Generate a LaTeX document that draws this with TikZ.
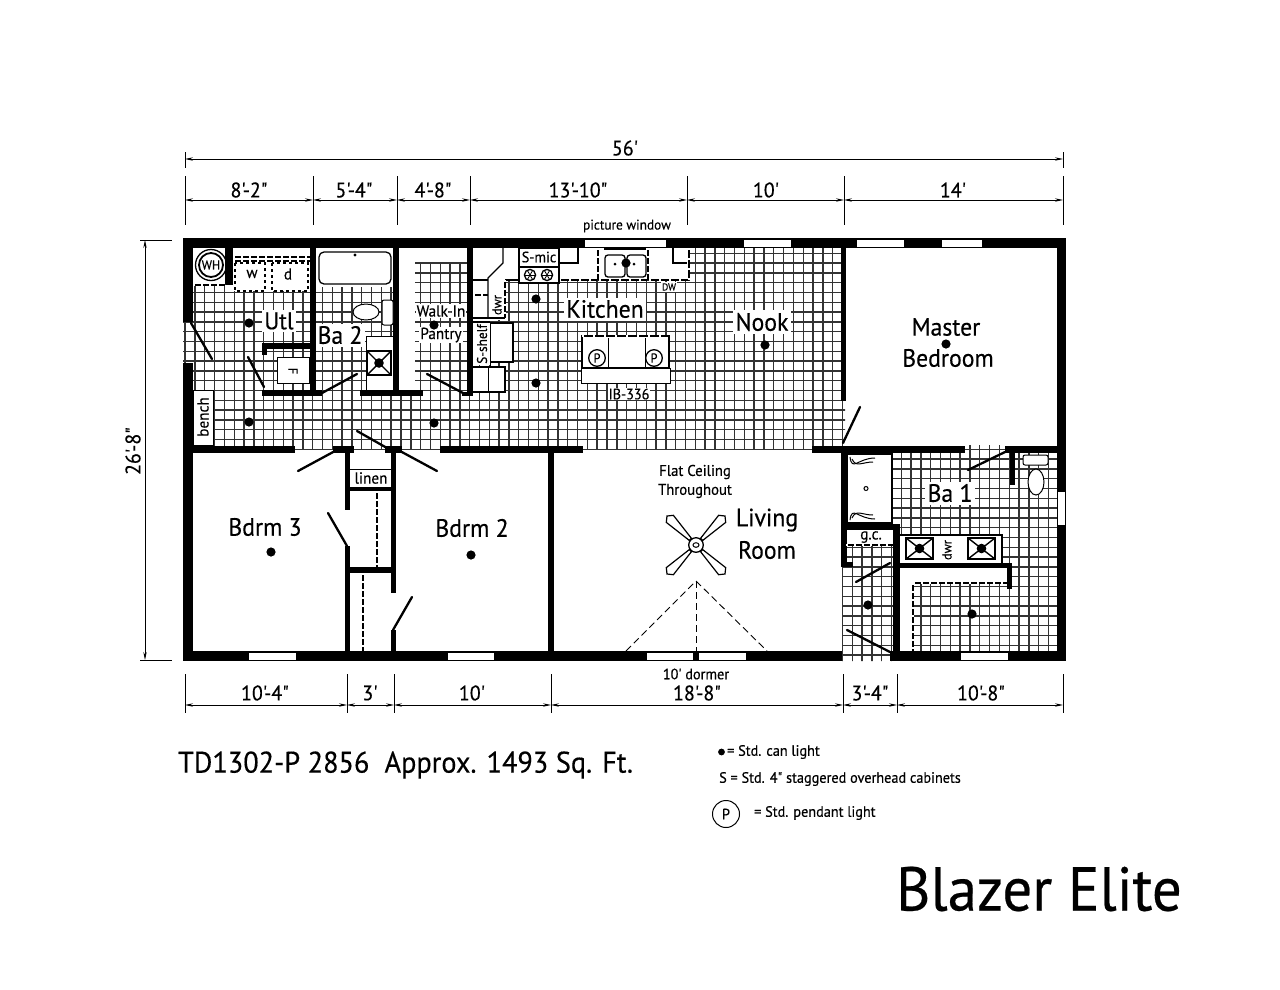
\documentclass[tikz,border=0pt]{standalone}
\usepackage{fontspec}
\usetikzlibrary{arrows.meta}
\newfontfamily\din{PT Sans}[FakeStretch=0.95,FakeBold=0.35]
\newcommand\wl[4]{\fill[black] (#1,#2) rectangle (#3,#4);}
\newcommand\wh[4]{\fill[white] (#1,#2) rectangle (#3,#4);}
\newcommand\dl[4]{\draw[black,line width=1.7pt] (#1,#2) -- (#3,#4);\draw[white,line width=1.9pt,dash pattern=on 2pt off 6pt] (#1,#2) -- (#3,#4);}
\newcommand\can[2]{\fill[black] (#1,#2) circle (4.6);}
\newcommand\sinkbox[4]{\draw[black,line width=2pt,fill=white] (#1,#2) rectangle (#3,#4);
 \draw[black,line width=1.4pt] (#1,#2) -- (#3,#4) (#1,#4) -- (#3,#2);
 \fill[black] ({(#1+#3)/2},{(#2+#4)/2}) circle (4.8);}
\tikzset{
 lb/.style={font=\din\fontsize{#1}{#1}\selectfont,inner sep=1pt,text=black},
 halo/.style={fill=white,inner sep=2.5pt},
 door/.style={line width=2.3pt,black,line cap=round},
 dim/.style={line width=0.8pt,black,{Stealth[length=8pt,width=3.4pt]}-{Stealth[length=8pt,width=3.4pt]}},
 tick/.style={line width=0.8pt,black},
 tile/.style={line width=1.4pt,black!80},
 thin1/.style={line width=1pt,black},
 fixt/.style={line width=1.3pt,black}
}
\begin{document}
\begin{tikzpicture}[x=1pt,y=-1pt]
\useasboundingbox (0,0) rectangle (1280,989);
\fill[white] (0,0) rectangle (1280,989);
% ---- tile
\begin{scope}
\clip (183,248) rectangle (845,449)
      (892,449) rectangle (1060,535)
      (1002,535) rectangle (1060,655)
      (913,583) rectangle (1060,655)
      (842,545) rectangle (893,661)
      (965,445) rectangle (1005,453);
\foreach \i in {-4,...,88} \draw[tile] ({214.6+\i*9.81},238) -- ++(0,430);
\foreach \i in {-1,...,42} \draw[tile] (180,{253.2+\i*9.8}) -- ++(890,0);
\end{scope}
\draw[tile] (295,449.5) -- (840,449.5);
% ---- white fixtures
\wh{193}{248}{233}{285}
\wh{233}{248}{310}{291}
\wh{316}{248}{393}{287}
\wh{366}{336}{393}{390}
\wh{399}{248}{467}{263}
\wh{399}{263}{415}{392}
\wh{473}{248}{505}{320}
\wh{505}{248}{689}{280}
\wh{473}{320}{490}{365}
\wh{490}{323}{513}{362}
\wh{473}{367}{505}{392}
\wh{519}{280}{559}{283}
\wh{277}{357}{309}{383}
\wh{581}{336}{670}{383}
\wh{193}{390}{213}{445}
\wh{847}{454}{892}{523}
\wh{846}{530}{893}{545}
\wh{900}{535}{1002}{563}
\wh{900}{568}{913}{651}
\wh{913}{568}{1007}{583}
% ---- outer walls
\wl{183}{238}{1066}{248}
\wl{183}{238}{193}{322}
\wl{183}{363}{193}{661}
\wl{1057}{238}{1066}{661}
\wl{183}{651}{842}{661}
\wl{890}{651}{1066}{661}
% windows
\wh{585}{239.5}{666}{247}
\wh{744}{239.5}{791}{247}
\wh{857}{239.5}{904}{247}
\wh{942}{239.5}{982}{247}
\wh{249}{652.5}{296}{660}
\wh{448}{652.5}{494}{660}
\wh{647}{652.5}{693}{660}
\wh{699}{652.5}{746}{660}
\wh{961}{652.5}{1008}{660}
\wh{1058}{492}{1065}{525}
% ---- room text with halos (under the walls)
\node[lb=24,halo] (utl) at (279,321) {Utl};
\node[lb=25,halo] (ba2) at (340,335) {Ba 2};
% ---- interior walls
\wl{225}{248}{233}{285}
\wl{310}{248}{316}{396}
\wl{262}{343}{312}{349}
\wl{262}{349}{267}{355}
\wl{262}{390}{322}{396}
\wl{360}{390}{423}{396}
\wl{393}{248}{399}{396}
\wl{467}{248}{473}{396}
\wl{462}{392}{473}{396}
\wl{183}{446}{295}{453}
\wl{333}{446}{354}{453}
\wl{385}{446}{402}{453}
\wl{440}{446}{583}{453}
\wl{812}{446}{965}{453}
\wl{1005}{446}{1057}{453}
\wl{841}{248}{846}{401}
\wl{1010}{453}{1015}{485}
\wl{841}{446}{847}{567}
\wl{841}{562}{853}{567}
\wl{842}{524}{899}{530}
\wl{893}{524}{900}{661}
\wl{899}{563}{1012}{568}
\wl{1007}{568}{1012}{589}
\wl{345}{447}{350}{510}
\wl{345}{546}{350}{651}
\wl{391}{447}{396}{593}
\wl{391}{630}{396}{651}
\wl{350}{487}{391}{491}
\wl{350}{567}{391}{573}
\wl{548}{447}{554}{651}
% ---- doors
\draw[door] (191,323) -- (212,359);
\draw[door] (248,357) -- (264,387);
\draw[door] (322,393) -- (357,374);
\draw[door] (427,374) -- (463,393);
\draw[door] (357,431) -- (387,448);
\draw[door] (298,471) -- (335,451);
\draw[door] (437,471) -- (400,451);
\draw[door] (328,513) -- (347,546);
\draw[door] (412,597) -- (393,630);
\draw[door] (843,443) -- (860,407);
\draw[door] (1005,452) -- (968,470);
\draw[door] (890,563) -- (856,582);
\draw[door] (847,630) -- (890,652);
% ---- closet lines
\draw[thin1] (350,469) -- (391,469);
\dl{377}{491}{377}{567}
\dl{363}{573}{363}{651}
\dl{913}{583}{913}{651}
\dl{913}{583}{1007}{583}
% ---- utility
\draw[fixt] (211,265) circle (15.5);
\draw[line width=1.8pt] (211,265) circle (12);
\dl{193}{285}{225}{285}
\dl{233}{257}{310}{257}
\dl{233}{261}{310}{261}
\draw[fixt,dashed] (235,263) rectangle (265,291);
\draw[fixt,dashed] (272,263) rectangle (308,291);
\draw[thin1,fill=white] (277,357) rectangle (309,383);
\draw[thin1] (193,390) rectangle (213,445);
% ---- bath 2
\draw[fixt,rounded corners=5pt] (319,252) rectangle (391,284);
\fill[black] (355,255) circle (1.6);
\draw[thin1,fill=white] (366,312) ellipse (13 and 8);
\draw[thin1,fill=white,rounded corners=2pt] (382,300) rectangle (393,325);
\draw[thin1] (366,390) -- (366,336) -- (393,336);
\sinkbox{367}{351}{391}{375}
\draw[tile] (415,263) -- (467,263);
% ---- kitchen counters
\draw[fixt] (503,248) -- (503,263) -- (488,278) -- (488,318);
\draw[fixt] (473,280) -- (488,280);
\dl{473}{295}{488}{295}
\draw[fixt] (505,280) -- (519,280);
\draw[fixt] (559,280) -- (689,280) -- (689,248);
\draw[white,line width=1.6pt,dash pattern=on 2pt off 8pt] (559,280) -- (689,280);
\draw[white,line width=1.6pt,dash pattern=on 2pt off 8pt] (689,280) -- (689,248);
\dl{505}{280}{505}{318}
\draw[fixt] (473,318) -- (505,318);
\draw[fixt] (473,322) -- (490,322);
\draw[fixt] (490,323) -- (513,323) -- (513,362) -- (490,362);
\draw[thin1] (490,323) -- (490,367);
\draw[fixt] (473,367) -- (505,367) -- (505,392) -- (473,392);
\draw[thin1] (488,367) -- (488,392);
\draw[fixt,fill=white] (519,248) rectangle (559,283);
\draw[fixt] (519,267) -- (559,267);
\foreach \cx in {530,547} {
 \draw[fixt] (\cx,275) circle (5.6);
 \foreach \a in {0,60,120} \draw[line width=0.8pt] (\cx,275) ++(\a:5.6) -- ++(\a+180:11.2);
}
\draw[fixt] (559,263) -- (578,263) -- (578,248);
\draw[fixt] (673,248) -- (673,263) -- (687,263);
\dl{598}{248}{598}{280}
\dl{648}{248}{648}{280}
\draw[fixt] (604,249) -- (646,249);
\draw[fixt,rounded corners=3pt] (605,255) rectangle (625,277);
\draw[fixt,rounded corners=3pt] (627,255) rectangle (646,277);
\fill[black] (615,264) circle (1.5) (634,264) circle (1.5);
% island
\draw[thin1,fill=white] (581,368) rectangle (670,383);
\draw[line width=1.6pt,fill=white] (582,336) rectangle (669,368);
\draw[white,line width=1.8pt,dash pattern=on 2pt off 9pt] (582,336) -- (669,336);
\draw[thin1] (608,368) -- (608,338) (645,368) -- (645,338);
\foreach \cx in {597,654} \draw[fixt,fill=white] (\cx,358) circle (8.3);
\node[lb=13] (ip1) at (597,358) {P};
\node[lb=13] (ip2) at (654,358) {P};
% ---- bath 1
\draw[fixt] (847,454) rectangle (892,523);
\draw[thin1] (850,457) .. controls (852,472) and (858,458) .. (875,458);
\draw[thin1] (850,520) .. controls (852,505) and (858,519) .. (875,519);
\draw[thin1] (852,459) .. controls (856,468) and (862,462) .. (873,462);
\draw[thin1] (852,518) .. controls (856,509) and (862,515) .. (873,515);
\draw[thin1] (866,488.5) circle (2);
\draw[thin1,fill=white,rounded corners=2pt] (1023,455) rectangle (1048,465);
\draw[thin1,fill=white] (1036,482) ellipse (8 and 13);
\dl{846}{545}{893}{545}
\draw[fixt] (900,535) -- (1002,535) -- (1002,563);
\sinkbox{906}{538}{933}{559}
\sinkbox{968}{538}{995}{559}
% ---- fan
\begin{scope}[shift={(696,545)}]
\foreach \a in {45,135,225,315} {
 \begin{scope}[rotate=\a]
  \draw[line width=1.2pt,fill=white] (8,-1.5) -- (37,-5) -- (41,0) -- (37,5) -- (8,1.5) -- cycle;
 \end{scope}
}
\draw[fixt,fill=white] (0,0) circle (7.3);
\draw[thin1] (0,0) ellipse (3 and 2.3);
\end{scope}
% ---- dormer
\draw[line width=0.9pt,dash pattern=on 7pt off 4pt] (626,651) -- (696,581) ;
\draw[line width=0.9pt,dash pattern=on 7pt off 4pt] (696,581) -- (767,651);
\draw[line width=0.9pt,dash pattern=on 7pt off 4pt] (696,581) -- (696,651);
% ---- dimensions
\draw[dim] (185,159) -- (1063,159);
\draw[tick] (185,152) -- (185,168) (1063,152) -- (1063,168);
\draw[dim] (185,200) -- (313,200);
\draw[dim] (313,200) -- (397,200);
\draw[dim] (397,200) -- (470,200);
\draw[dim] (470,200) -- (687,200);
\draw[dim] (687,200) -- (844,200);
\draw[dim] (844,200) -- (1063,200);
\foreach \x in {185,313,397,470,687,844,1063} \draw[tick] (\x,176) -- (\x,225);
\draw[dim] (145,240) -- (145,660);
\draw[tick] (140,240) -- (172,240) (140,660) -- (172,660);
\draw[dim] (185,705) -- (347,705);
\draw[dim] (347,705) -- (394,705);
\draw[dim] (394,705) -- (551,705);
\draw[dim] (551,705) -- (843,705);
\draw[dim] (843,705) -- (897,705);
\draw[dim] (897,705) -- (1063,705);
\foreach \x in {185,347,394,551,843,897,1063} \draw[tick] (\x,674) -- (\x,713);
% ---- dimension text
\node[lb=21] (d0) at (625,148) {56'};
\node[lb=21] (d1) at (249,190) {8'-2"};
\node[lb=21] (d2) at (354,190) {5'-4"};
\node[lb=21] (d3) at (433,190) {4'-8"};
\node[lb=21] (d4) at (578,190) {13'-10"};
\node[lb=21] (d5) at (766,190) {10'};
\node[lb=21] (d6) at (953,190) {14'};
\node[lb=21,rotate=90] (d7) at (133,451) {26'-8"};
\node[lb=21] (d8) at (265,693) {10'-4"};
\node[lb=21] (d9) at (370,693) {3'};
\node[lb=21] (d10) at (472,693) {10'};
\node[lb=21] (d11) at (697,693) {18'-8"};
\node[lb=21] (d12) at (870,693) {3'-4"};
\node[lb=21] (d13) at (981,693) {10'-8"};
\node[lb=15] (dorm) at (696,674) {10' dormer};
\node[lb=14] (pw) at (627,226) {picture window};
% ---- room text
\node[lb=16,halo,inner sep=1pt] (walk) at (441,311) {Walk-In};
\node[lb=16,halo,inner sep=1pt] (pan) at (441,335) {Pantry};
\node[lb=25,halo] (kit) at (605,309) {Kitchen};
\node[lb=25,halo] (nook) at (762,322) {Nook};
\node[lb=25] (mas) at (946,327) {Master};
\node[lb=25] (bed) at (948,358) {Bedroom};
\node[lb=25,halo] (ba1) at (950,493) {Ba 1};
\node[lb=25] (bd3) at (265,527) {Bdrm 3};
\node[lb=25] (bd2) at (472,528) {Bdrm 2};
\node[lb=25] (liv) at (767,520) {Living};
\node[lb=25] (roo) at (767,550) {Room};
\node[lb=15.5] (fl1) at (695,472) {Flat Ceiling};
\node[lb=15.5] (fl2) at (695,491) {Throughout};
\node[lb=15,halo,inner sep=1pt] (ib) at (629,394) {IB-336};
\node[lb=16] (linen) at (371,478) {linen};
\node[lb=16] (gc) at (871,537) {g.c.};
\node[lb=15] (smic) at (539,257) {S-mic};
\node[lb=13] (dwr1) at (497,305) [rotate=90] {dwr};
\node[lb=13] (dwr2) at (947,550) [rotate=90] {dwr};
\node[lb=14] (shelf) at (482,344) [rotate=90] {S-shelf};
\node[lb=10,halo,inner sep=1pt] (dw) at (669,287) {DW};
\node[lb=16] (bench) at (203,417) [rotate=90] {bench};
\node[lb=13] (whl) at (211,265) {WH};
\node[lb=16] (wl) at (252,274) {w};
\node[lb=16] (dl) at (288,274) {d};
\node[lb=13,rotate=-90] (fl) at (293,371) {F};
% ---- lights
\can{249}{323}\can{249}{422}\can{434}{423}\can{434}{325}
\can{536}{299}\can{536}{383}\can{765}{345}\can{946}{344}
\can{271}{552}\can{471}{555}\can{972}{614}\can{868}{605}\can{626}{263}
% ---- footer
\node[lb=29.8,anchor=west] (title) at (177,765) {TD1302-P 2856\ \ Approx. 1493 Sq. Ft.};
\fill[black] (721.5,752) circle (3.4);
\node[lb=15,anchor=west] (l1) at (726,752) {= Std. can light};
\node[lb=15,anchor=west] (l2) at (718,779) {S = Std. 4" staggered overhead cabinets};
\draw[line width=1pt] (726,814) circle (13.5);
\node[lb=15] (lp) at (726,814) {P};
\node[lb=15,anchor=west] (l3) at (753,813) {= Std. pendant light};
\node[lb=62,anchor=east] (brand) at (1183,889) {Blazer Elite};
\end{tikzpicture}
\end{document}
